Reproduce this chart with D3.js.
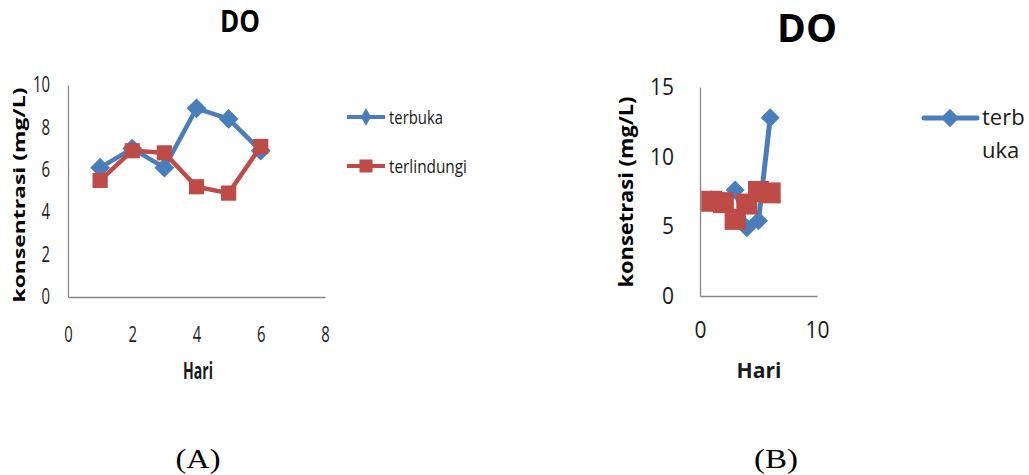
<!DOCTYPE html>
<html>
<head>
<meta charset="utf-8">
<script src="https://cdn.jsdelivr.net/npm/d3@7"></script>
<style>
  body { margin: 0; background: #fff; }
  svg { display: block; font-family: "Open Sans", "Noto Sans", sans-serif; }
</style>
</head>
<body>
<svg id="chart" width="1029" height="475"></svg>
<script>
// data
var hari = [1, 2, 3, 4, 5, 6];
var terbukaA = [6.1, 7.0, 6.1, 8.9, 8.4, 6.9];
var terlindungiA = [5.5, 6.9, 6.8, 5.2, 4.9, 7.1];
var terbukaB = [6.9, 6.8, 7.6, 4.9, 5.4, 12.8];
var terlindungiB = [6.8, 6.7, 5.5, 6.6, 7.5, 7.4];
var xTicksA = [0, 2, 4, 6, 8];
var yTicksA = [0, 2, 4, 6, 8, 10];
var xTicksB = [0, 10];
var yTicksB = [0, 5, 10, 15];

var blue = "#4a7ebb", red = "#be4b48", axisGrey = "#868686", ink = "#1a1a1a";

var svg = d3.select("#chart");

function drawPanel(opt) {
  var g = svg.append("g");
  var x = d3.scaleLinear().domain(opt.xDomain).range(opt.xRange);
  var y = d3.scaleLinear().domain(opt.yDomain).range(opt.yRange);

  var xAxis = g.append("g")
    .attr("transform", `translate(0,${opt.yRange[0]})`)
    .call(d3.axisBottom(x).tickValues(opt.xTicks).tickSize(0).tickPadding(opt.xPad));
  var yAxis = g.append("g")
    .attr("transform", `translate(${opt.xRange[0]},0)`)
    .call(d3.axisLeft(y).tickValues(opt.yTicks).tickSize(0).tickPadding(opt.yPad));
  [xAxis, yAxis].forEach(function(a) {
    a.attr("font-family", null).attr("font-size", null);
    a.select(".domain").attr("stroke", axisGrey).attr("stroke-width", 1.3);
    a.selectAll("text")
      .attr("fill", ink)
      .style("font-size", opt.tickSize + "px")
      .attr("textLength", d => String(d).length * opt.digitW)
      .attr("lengthAdjust", "spacingAndGlyphs");
  });

  var line = d3.line().x(d => x(d[0])).y(d => y(d[1]));
  var diamond = d3.symbol().type(d3.symbolDiamond2).size(opt.diamondSize);
  var square = d3.symbol().type(d3.symbolSquare).size(opt.squareSize);

  opt.series.forEach(function(s) {
    var pts = hari.map((h, i) => [h, s.values[i]]);
    g.append("path")
      .datum(pts)
      .attr("fill", "none")
      .attr("stroke", s.color)
      .attr("stroke-width", opt.lineWidth)
      .attr("stroke-linejoin", "round")
      .attr("d", line);
    g.append("g").selectAll("path")
      .data(pts)
      .join("path")
      .attr("transform", d => `translate(${x(d[0])},${y(d[1])})`)
      .attr("d", s.shape == "diamond" ? diamond : square)
      .attr("fill", s.color);
  });

  g.append("text")
    .attr("x", opt.titleX).attr("y", opt.titleY)
    .attr("text-anchor", "middle")
    .style("font-size", opt.titleSize + "px")
    .style("font-weight", "bold")
    .attr("textLength", opt.titleW).attr("lengthAdjust", "spacingAndGlyphs")
    .text("DO");

  g.append("text")
    .attr("x", opt.hariX).attr("y", opt.hariY)
    .attr("text-anchor", "middle")
    .style("font-size", opt.labelSize + "px")
    .style("font-weight", "bold")
    .attr("fill", ink)
    .attr("textLength", opt.hariW).attr("lengthAdjust", "spacingAndGlyphs")
    .text("Hari");

  g.append("text")
    .attr("transform", `translate(${opt.yLabelX},${opt.yLabelY}) rotate(-90)`)
    .attr("text-anchor", "middle")
    .style("font-size", opt.yLabelSize + "px")
    .style("font-weight", "bold")
    .attr("textLength", opt.yLabelW).attr("lengthAdjust", "spacingAndGlyphs")
    .text(opt.yLabel);

  return { g: g, x: x, y: y };
}

var A = drawPanel({
  xDomain: [0, 8], xRange: [68, 325],
  yDomain: [0, 10], yRange: [297, 85],
  xTicks: xTicksA, yTicks: yTicksA,
  xPad: 30, yPad: 18, tickSize: 21, digitW: 8.5,
  lineWidth: 4.5, diamondSize: 250, squareSize: 230,
  series: [
    { values: terbukaA, color: blue, shape: "diamond" },
    { values: terlindungiA, color: red, shape: "square" }
  ],
  titleX: 240, titleY: 32, titleSize: 31, titleW: 40,
  hariX: 198, hariY: 379, labelSize: 23, hariW: 30,
  yLabel: "konsentrasi (mg/L)", yLabelX: 25, yLabelY: 195, yLabelSize: 16, yLabelW: 215
});

var B = drawPanel({
  xDomain: [0, 10], xRange: [700, 817],
  yDomain: [0, 15], yRange: [296, 87],
  xTicks: xTicksB, yTicks: yTicksB,
  xPad: 26, yPad: 26, tickSize: 23, digitW: 12,
  lineWidth: 5, diamondSize: 230, squareSize: 440,
  series: [
    { values: terbukaB, color: blue, shape: "diamond" },
    { values: terlindungiB, color: red, shape: "square" }
  ],
  titleX: 807, titleY: 42, titleSize: 39, titleW: 60,
  hariX: 759, hariY: 378, labelSize: 22, hariW: 45,
  yLabel: "konsetrasi (mg/L)", yLabelX: 633, yLabelY: 192, yLabelSize: 20, yLabelW: 191
});

// legend A
var legA = A.g.append("g");
[{ name: "terbuka", w: 54, color: blue, shape: d3.symbolDiamond, size: 90, y: 117 },
 { name: "terlindungi", w: 78, color: red, shape: d3.symbolSquare, size: 170, y: 166 }].forEach(function(d) {
  legA.append("line").attr("x1", 347).attr("x2", 385).attr("y1", d.y).attr("y2", d.y)
    .attr("stroke", d.color).attr("stroke-width", 4);
  legA.append("path").attr("transform", `translate(366,${d.y})`)
    .attr("d", d3.symbol().type(d.shape).size(d.size)).attr("fill", d.color);
  legA.append("text").attr("x", 389).attr("y", d.y + 7)
    .style("font-size", "18px").attr("fill", ink)
    .attr("textLength", d.w).attr("lengthAdjust", "spacingAndGlyphs")
    .text(d.name);
});

// legend B (label wraps, second entry falls outside)
var legB = B.g.append("g");
legB.append("line").attr("x1", 924).attr("x2", 977).attr("y1", 118).attr("y2", 118)
  .attr("stroke", blue).attr("stroke-width", 5).attr("stroke-linecap", "round");
legB.append("path").attr("transform", "translate(950,118)")
  .attr("d", d3.symbol().type(d3.symbolDiamond2).size(215)).attr("fill", blue);
legB.append("text").attr("x", 982).attr("y", 125).style("font-size", "22px").attr("fill", ink).text("terb");
legB.append("text").attr("x", 982).attr("y", 158).style("font-size", "22px").attr("fill", ink).text("uka");

// captions
svg.append("text").attr("x", 198).attr("y", 468).attr("text-anchor", "middle")
  .style("font-family", "'Liberation Serif', serif").style("font-size", "27px")
  .attr("textLength", 45).attr("lengthAdjust", "spacingAndGlyphs").text("(A)");
svg.append("text").attr("x", 776).attr("y", 468).attr("text-anchor", "middle")
  .style("font-family", "'Liberation Serif', serif").style("font-size", "27px")
  .attr("textLength", 44).attr("lengthAdjust", "spacingAndGlyphs").text("(B)");
</script>
</body>
</html>
